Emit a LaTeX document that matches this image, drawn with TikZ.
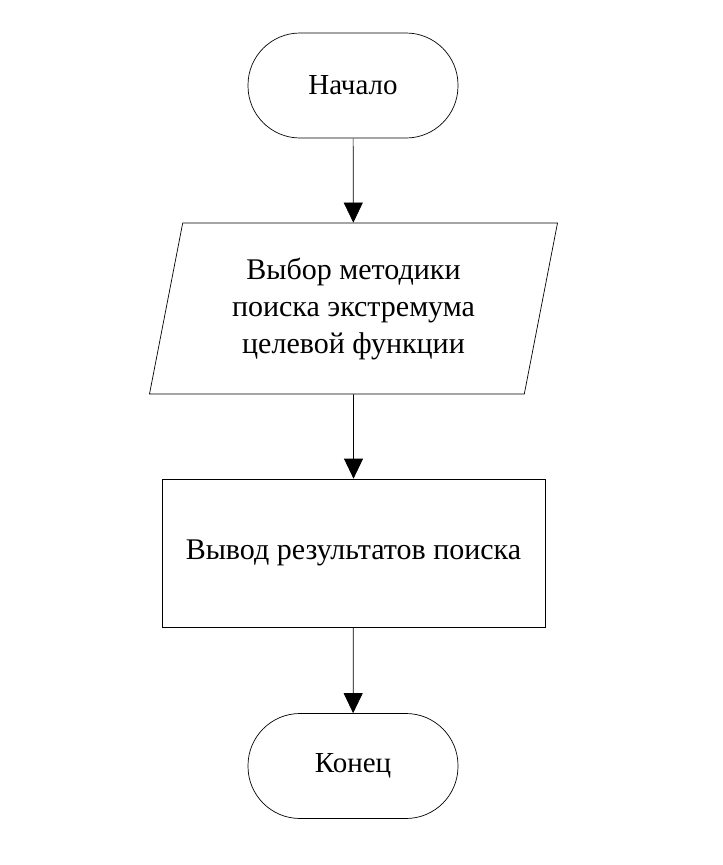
\documentclass[tikz,border=0pt]{standalone}
\usepackage{fontspec}
\setmainfont{Liberation Serif}
\usepackage{tikz}
\usetikzlibrary{arrows.meta, shapes.geometric}

\begin{document}
\begin{tikzpicture}[x=1pt, y=-1pt, line width=0.7pt,
  >={Triangle[width=19pt, length=20pt]},
  term/.style={draw, rounded corners=52pt, minimum width=210pt, minimum height=105pt, font=\fontsize{29}{34}\selectfont},
  io/.style={draw, trapezium, trapezium left angle=73, trapezium right angle=107, trapezium stretches body=true, minimum width=408pt, minimum height=171pt, align=center, font=\fontsize{30}{37}\selectfont},
  proc/.style={draw, minimum width=383pt, minimum height=148pt, font=\fontsize{30}{36}\selectfont}]
\useasboundingbox (0,0) rectangle (723,865);
\node[term](start) at (353,85.5) {Начало};
\node[io](choice) at (353.5,308.5) {Выбор методики\\поиска экстремума\\целевой функции};
\node[proc](output) at (353.5,553) {Вывод результатов поиска};
\node[term](stop) at (353,766) {Конец};
%
\draw[->](start) -- (choice) {};
\draw[->](choice) -- (output) {};
\draw[->](output) -- (stop) {};
\end{tikzpicture}
\end{document}
